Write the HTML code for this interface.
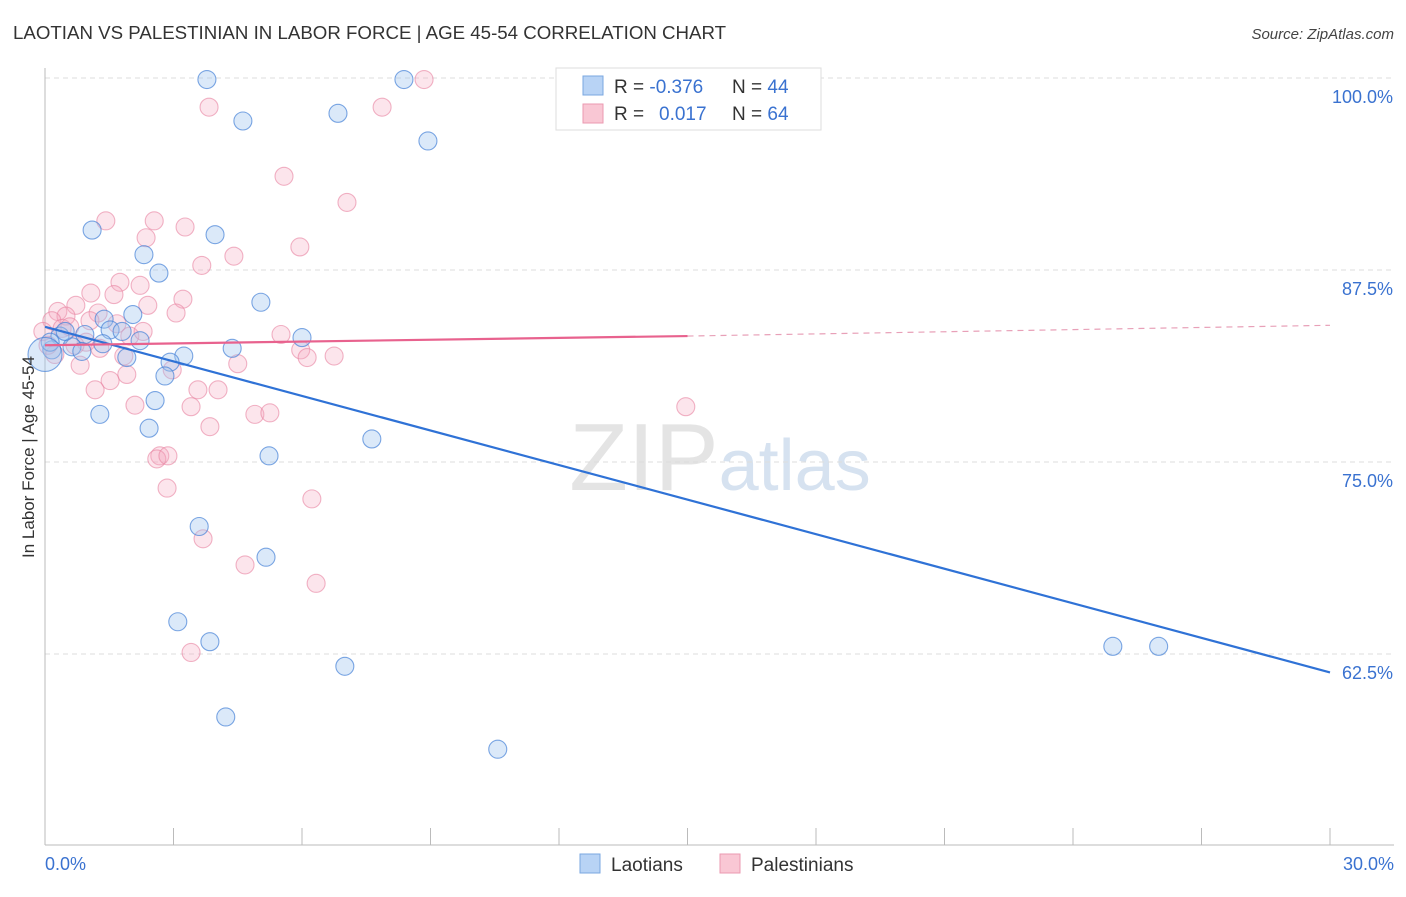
<!DOCTYPE html>
<html><head><meta charset="utf-8"><style>
body{margin:0;background:#fff;font-family:"Liberation Sans",sans-serif}
svg text{font-family:"Liberation Sans",sans-serif}
</style></head><body>
<svg id="chart" width="1406" height="892" xmlns="http://www.w3.org/2000/svg">
<text x="13" y="39" font-size="18.7" fill="#333">LAOTIAN VS PALESTINIAN IN LABOR FORCE | AGE 45-54 CORRELATION CHART</text>
<text x="1394" y="39" font-size="15" fill="#444" text-anchor="end" font-style="italic">Source: ZipAtlas.com</text>
<text x="720" y="490" font-size="96" fill="#e4e4e4" text-anchor="middle" font-family="Liberation Serif">ZIP<tspan fill="#d6e2f0" font-family="Liberation Sans" font-size="72">atlas</tspan></text>
<g id="grid"></g><g id="axes"></g><g id="pts"></g><g id="trends"></g>
<text transform="translate(34,457) rotate(-90)" font-size="17" fill="#333" text-anchor="middle">In Labor Force | Age 45-54</text>
<g>
<rect x="556" y="68" width="265" height="62" fill="#fff" stroke="#ddd"/>
<rect x="583" y="76" width="20" height="19" fill="#b8d3f5" stroke="#7aa7e0"/>
<rect x="583" y="104" width="20" height="19" fill="#f9c7d4" stroke="#eb9ab0"/>
<text x="614" y="93" font-size="19" fill="#333">R = <tspan fill="#3a72d0">-0.376</tspan><tspan x="732">N = </tspan><tspan fill="#3a72d0">44</tspan></text>
<text x="614" y="120" font-size="19" fill="#333">R = <tspan x="659" fill="#3a72d0">0.017</tspan><tspan x="732">N = </tspan><tspan fill="#3a72d0">64</tspan></text>
</g>
<g>
<rect x="580" y="854" width="20" height="19" fill="#b8d3f5" stroke="#7aa7e0"/>
<text x="611" y="871" font-size="19" fill="#333">Laotians</text>
<rect x="720" y="854" width="20" height="19" fill="#f9c7d4" stroke="#eb9ab0"/>
<text x="751" y="871" font-size="19" fill="#333">Palestinians</text>
</g>
</svg>
<script>
const yTicks=[100,87.5,75,62.5];
const yTickLabels=["100.0%","87.5%","75.0%","62.5%"];
const xTickCount=11;
const laoX=[3.78,8.38,4.62,6.84,8.94,1.1,3.97,2.31,2.66,5.04,1.38,2.05,1.52,1.8,2.22,0.93,0.35,0.63,1.35,0.86,1.91,3.24,4.37,6.0,2.92,2.8,2.57,1.28,2.43,7.63,5.23,3.6,5.16,3.1,3.85,7.0,4.22,10.57,24.93,26.0,0.16,0.47,0.12,0.0];
const laoY=[99.9,99.9,97.2,97.7,95.9,90.1,89.8,88.5,87.3,85.4,84.3,84.6,83.6,83.5,82.9,83.3,83.2,82.5,82.7,82.2,81.8,81.9,82.4,83.1,81.5,80.6,79.0,78.1,77.2,76.5,75.4,70.8,68.8,64.6,63.3,61.7,58.4,56.3,63.0,63.0,82.3,83.5,82.8,82.0];
const laoR=[9,9,9,9,9,9,9,9,9,9,9,9,9,9,9,9,9,9,9,9,9,9,9,9,9,9,9,9,9,9,9,9,9,9,9,9,9,9,9,9,9,9,9,17];
const palX=[8.85,3.83,7.87,5.58,7.05,1.42,2.55,3.27,2.36,5.95,4.41,3.66,1.75,2.22,1.07,1.61,3.22,2.4,0.72,0.3,1.24,3.06,0.49,0.16,5.51,0.96,1.68,1.98,5.97,6.12,6.75,1.84,4.5,0.82,2.97,1.91,1.52,1.17,3.57,4.04,3.41,2.1,4.9,5.25,3.85,2.68,2.61,2.87,2.85,6.23,3.69,4.67,6.33,3.41,14.96,0.23,0.07,0.4,0.58,1.28,-0.05,2.29,1.05,0.7];
const palY=[99.9,98.1,98.1,93.6,91.9,90.7,90.7,90.3,89.6,89.0,88.4,87.8,86.7,86.5,86.0,85.9,85.6,85.2,85.2,84.8,84.7,84.7,84.5,84.2,83.3,82.8,84.0,83.2,82.3,81.8,81.9,81.9,81.4,81.3,81.0,80.7,80.3,79.7,79.7,79.7,78.6,78.7,78.1,78.2,77.3,75.4,75.2,75.4,73.3,72.6,70.0,68.3,67.1,62.6,78.6,82.0,82.6,83.7,83.8,82.4,83.5,83.5,84.2,82.6];
const laoTrendX=[0,30], laoTrendY=[83.8,61.3];
const palTrendX=[0,15,30], palTrendY=[82.6,83.2,83.9];
const X=v=>45+v/30*1285, Y=v=>78+(100-v)/12.5*192;
const NS="http://www.w3.org/2000/svg";
function mk(tag,attrs,parent){const e=document.createElementNS(NS,tag);for(const k in attrs)e.setAttribute(k,attrs[k]);parent.appendChild(e);return e;}
const grid=document.getElementById('grid'),axes=document.getElementById('axes'),pts=document.getElementById('pts'),tr=document.getElementById('trends');
yTicks.forEach((t,i)=>{
 const l=mk('line',{x1:45,x2:1394,y1:Y(t),y2:Y(t),stroke:'#ddd','stroke-dasharray':'5,4'},grid);
 
 
 const tx=mk('text',{x:1393,y:Y(t)+25,'font-size':18,fill:'#3a72d0','text-anchor':'end'},axes);
 tx.textContent=yTickLabels[i];
 
 
});
const ya=mk('line',{x1:45,x2:45,y1:68,y2:845,stroke:'#bbb'},axes);


const xa=mk('line',{x1:45,x2:1394,y1:845,y2:845,stroke:'#bbb'},axes);


for(let i=0;i<xTickCount;i++){const x=X(i*3);const t=mk('line',{x1:x,x2:x,y1:828,y2:845,stroke:'#bbb'},axes);
 
 }
const x0=mk('text',{x:45,y:870,'font-size':18,fill:'#3a72d0'},axes);x0.textContent='0.0%';


const x1=mk('text',{x:1394,y:870,'font-size':18,fill:'#3a72d0','text-anchor':'end'},axes);x1.textContent='30.0%';


palX.forEach((v,i)=>{const c=mk('circle',{cx:X(v),cy:Y(palY[i]),r:9,fill:'rgba(246,170,192,0.3)',stroke:'rgba(232,130,160,0.6)','stroke-width':1.1},pts);
 
 });
laoX.forEach((v,i)=>{const c=mk('circle',{cx:X(v),cy:Y(laoY[i]),r:laoR[i],fill:'rgba(160,196,240,0.38)',stroke:'rgba(70,130,215,0.7)','stroke-width':1.1},pts);
 
 });
const lt=mk('line',{x1:X(laoTrendX[0]),y1:Y(laoTrendY[0]),x2:X(laoTrendX[1]),y2:Y(laoTrendY[1]),stroke:'#2f72d6','stroke-width':2.2},tr);


const pt=mk('line',{x1:X(palTrendX[0]),y1:Y(palTrendY[0]),x2:X(palTrendX[1]),y2:Y(palTrendY[1]),stroke:'#e8628e','stroke-width':2.2},tr);


const pd=mk('line',{x1:X(palTrendX[1]),y1:Y(palTrendY[1]),x2:X(palTrendX[2]),y2:Y(palTrendY[2]),stroke:'#e8a0b8','stroke-width':1.2,'stroke-dasharray':'6,5'},tr);


</script>
</body></html>
